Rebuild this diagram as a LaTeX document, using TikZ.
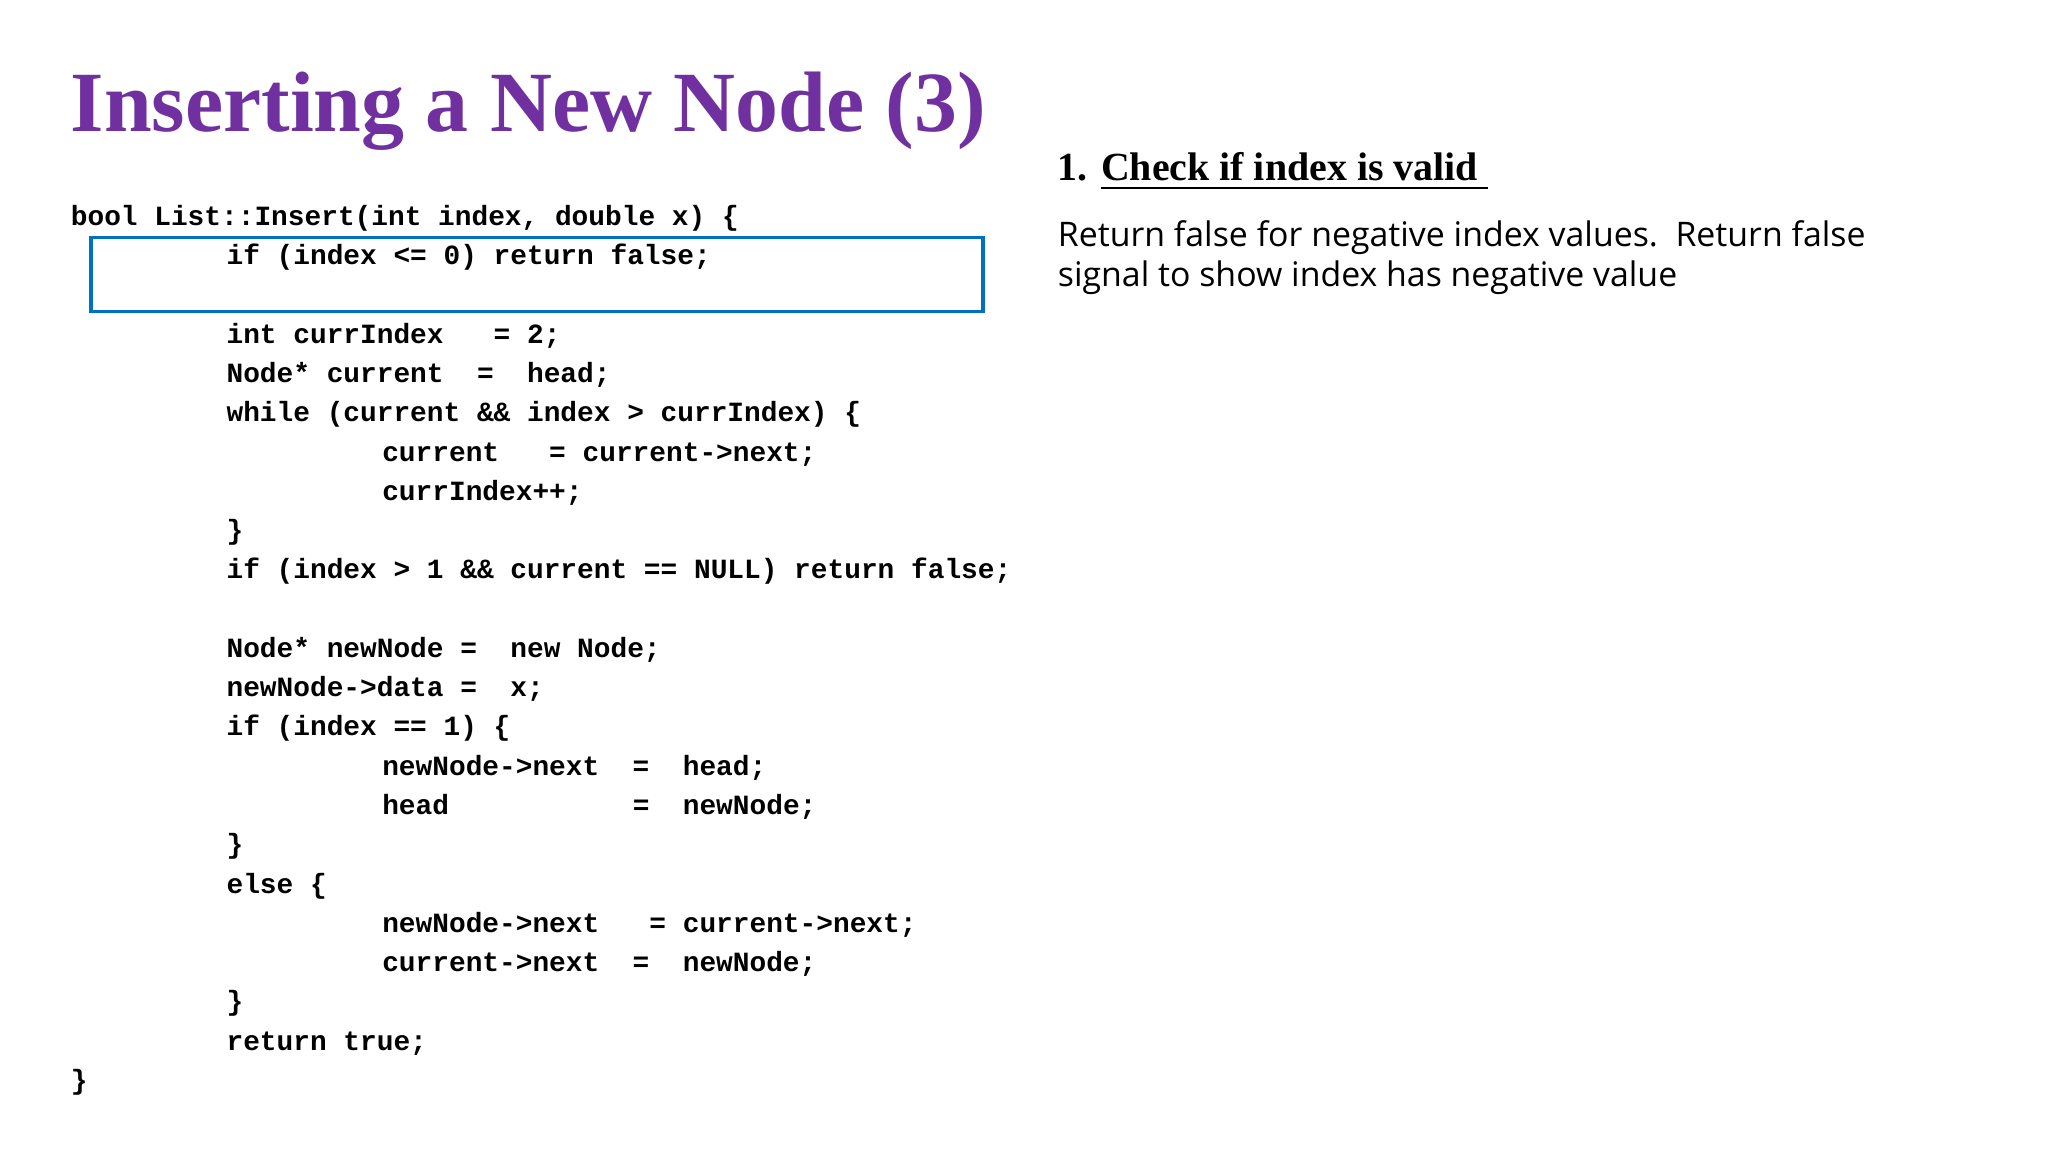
\documentclass[tikz,border=0pt]{standalone}
\usepackage{fontspec}
\setmainfont{Liberation Serif}
\newfontfamily\codefont{Liberation Mono}
\newfontfamily\bodyfont{Open Sans}
\definecolor{ttl}{RGB}{112,48,160}
\definecolor{boxblue}{RGB}{0,112,192}
\tikzset{code/.style={anchor=base west,inner sep=0pt,font=\codefont\bfseries\fontsize{6pt}{7pt}\selectfont},
 body/.style={anchor=base west,inner sep=0pt,font=\bodyfont\fontsize{7.3pt}{9pt}\selectfont}}
\begin{document}
\begin{tikzpicture}
\useasboundingbox[fill=white] (0,0) rectangle (15.52,-8.73);
\node[anchor=base west,inner sep=0pt,text=ttl,font=\bfseries\fontsize{18.5pt}{22pt}\selectfont] (title) at (0.53,-1.0) {Inserting a New Node (3)};
\def\ly#1{-1.71-0.2975*#1}
\node[code] (l0) at (0.53,{\ly{0}}) {bool List::Insert(int index, double x) \{};
\node[code] (l1) at (1.71,{\ly{1}}) {if (index <= 0) return false;};
\node[code] (l3) at (1.71,{\ly{3}}) {int currIndex\ \ \ = 2;};
\node[code] (l4) at (1.71,{\ly{4}}) {Node* current\ \ =\ \ head;};
\node[code] (l5) at (1.71,{\ly{5}}) {while (current \&\& index > currIndex) \{};
\node[code] (l6) at (2.89,{\ly{6}}) {current\ \ \ = current->next;};
\node[code] (l7) at (2.89,{\ly{7}}) {currIndex++;};
\node[code] (l8) at (1.71,{\ly{8}}) {\}};
\node[code] (l9) at (1.71,{\ly{9}}) {if (index > 1 \&\& current == NULL) return false;};
\node[code] (l11) at (1.71,{\ly{11}}) {Node* newNode =\ \ new Node;};
\node[code] (l12) at (1.71,{\ly{12}}) {newNode->data =\ \ x;};
\node[code] (l13) at (1.71,{\ly{13}}) {if (index == 1) \{};
\node[code] (l14) at (2.89,{\ly{14}}) {newNode->next\ \ =\ \ head;};
\node[code] (l15) at (2.89,{\ly{15}}) {head\ \ \ \ \ \ \ \ \ \ \ =\ \ newNode;};
\node[code] (l16) at (1.71,{\ly{16}}) {\}};
\node[code] (l17) at (1.71,{\ly{17}}) {else \{};
\node[code] (l18) at (2.89,{\ly{18}}) {newNode->next\ \ \ = current->next;};
\node[code] (l19) at (2.89,{\ly{19}}) {current->next\ \ =\ \ newNode;};
\node[code] (l20) at (1.71,{\ly{20}}) {\}};
\node[code] (l21) at (1.71,{\ly{21}}) {return true;};
\node[code] (l22) at (0.53,{\ly{22}}) {\}};
\draw[boxblue,line width=0.75pt] (0.69,-1.80) rectangle (7.45,-2.36);
\node[anchor=base west,inner sep=0pt,font=\bfseries\fontsize{8.6pt}{10pt}\selectfont] (h1) at (8.01,-1.37) {1. \underline{Check if index is valid\ }};
\node[body] (b1) at (8.01,-1.87) {Return false for negative index values.\ \ Return false};
\node[body] (b2) at (8.01,-2.17) {signal to show index has negative value};
\end{tikzpicture}
\end{document}
